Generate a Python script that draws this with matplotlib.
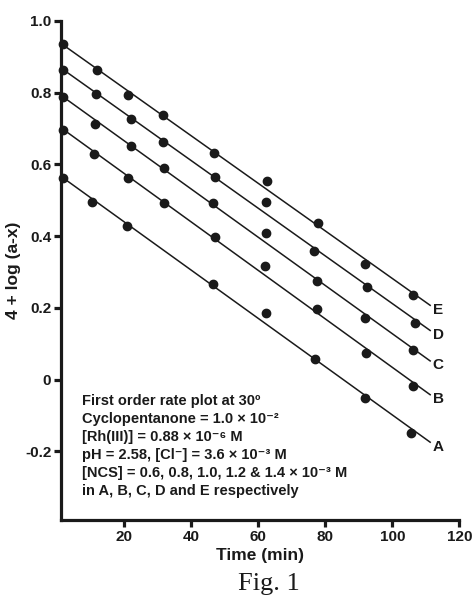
import numpy as np
import matplotlib
matplotlib.use("Agg")
import matplotlib.pyplot as plt
from matplotlib.ticker import FixedLocator, FixedFormatter

plt.rcParams['font.family'] = ['Liberation Sans', 'DejaVu Sans']

# ---- data (time in min, 4 + log(a-x)) ----
t_E = [1.6, 11.9, 21.2, 31.6, 46.9, 62.5, 77.9, 91.8, 106.3]
y_E = [0.935, 0.862, 0.793, 0.739, 0.631, 0.554, 0.436, 0.322, 0.236]
t_D = [1.6, 11.5, 22.0, 31.6, 47.1, 62.2, 76.7, 92.4, 106.8]
y_D = [0.862, 0.795, 0.727, 0.663, 0.566, 0.494, 0.358, 0.259, 0.159]
t_C = [1.6, 11.3, 21.9, 31.9, 46.4, 62.4, 77.4, 91.9, 106.3]
y_C = [0.788, 0.713, 0.650, 0.589, 0.491, 0.409, 0.275, 0.171, 0.082]
t_B = [1.6, 11.0, 21.2, 31.9, 47.1, 62.0, 77.4, 92.1, 106.1]
y_B = [0.695, 0.629, 0.561, 0.492, 0.397, 0.317, 0.196, 0.075, -0.018]
t_A = [1.6, 10.4, 20.7, 46.6, 62.3, 76.9, 91.8, 105.7]
y_A = [0.561, 0.496, 0.428, 0.266, 0.187, 0.057, -0.052, -0.148]

series_names = ['A', 'B', 'C', 'D', 'E']
series_t = [t_A, t_B, t_C, t_D, t_E]
series_y = [y_A, y_B, y_C, y_D, y_E]

x_ticks = [20, 40, 60, 80, 100, 120]
x_ticklabels = ['20', '40', '60', '80', '100', '120']
y_ticks = [-0.2, 0, 0.2, 0.4, 0.6, 0.8, 1.0]
y_ticklabels = ['-0.2', '0', '0.2', '0.4', '0.6', '0.8', '1.0']

info_lines = [
    'First order rate plot at 30º',
    'Cyclopentanone = 1.0 × 10⁻²',
    '[Rh(III)] = 0.88 × 10⁻⁶ M',
    'pH = 2.58, [Cl⁻] = 3.6 × 10⁻³ M',
    '[NCS] = 0.6, 0.8, 1.0, 1.2 & 1.4 × 10⁻³ M',
    'in A, B, C, D and E respectively',
]

fig = plt.figure(figsize=(4.74, 5.96), dpi=100)
ax = fig.add_axes([0.1287, 0.127, 0.8403, 0.838])

line_end = 111.3
for name, t, y in zip(series_names, series_t, series_y):
    t = np.array(t); y = np.array(y)
    k, b = np.polyfit(t, y, 1)
    xs = np.array([t[0], line_end])
    ax.plot(xs, k * xs + b, color='#1a1a1a', lw=1.1, zorder=2)
    ax.plot(t, y, 'o', color='#1a1a1a', ms=6, zorder=3, clip_on=False)
    ax.text(line_end + 0.8, k * line_end + b - 0.012, name, ha='left', va='center',
            fontsize=11, fontweight='bold', color='#1a1a1a')

ax.set_xlim(1.1, 120)
ax.set_ylim(-0.392, 1.0)
for s in ['top', 'right']:
    ax.spines[s].set_visible(False)
for s in ['left', 'bottom']:
    ax.spines[s].set_linewidth(2.3)
    ax.spines[s].set_color('#1a1a1a')

ax.xaxis.set_major_locator(FixedLocator(x_ticks))
ax.xaxis.set_major_formatter(FixedFormatter(x_ticklabels))
ax.yaxis.set_major_locator(FixedLocator(y_ticks))
ax.yaxis.set_major_formatter(FixedFormatter(y_ticklabels))
ax.tick_params(axis='both', direction='out', length=5, width=2.3, color='#1a1a1a',
               labelsize=11, pad=2)
for lbl in ax.get_xticklabels() + ax.get_yticklabels():
    lbl.set_fontweight('bold')
    lbl.set_color('#1a1a1a')

ax.set_xlabel('Time (min)', fontsize=12.5, fontweight='bold', color='#1a1a1a', labelpad=3)
ax.set_ylabel('4 + log (a-x)', fontsize=12.5, fontweight='bold', color='#1a1a1a', labelpad=3)

for i, line in enumerate(info_lines):
    fig.text(82 / 474, 1 - (400.7 + i * 18.0) / 596, line, ha='left', va='center',
             fontsize=10.5, fontweight='bold', color='#1a1a1a')

fig.text(269 / 474, 1 - 584 / 596, 'Fig. 1', ha='center', va='center',
         fontsize=19, family='Liberation Serif', color='#1a1a1a')

fig.savefig('out.png', dpi=100)
